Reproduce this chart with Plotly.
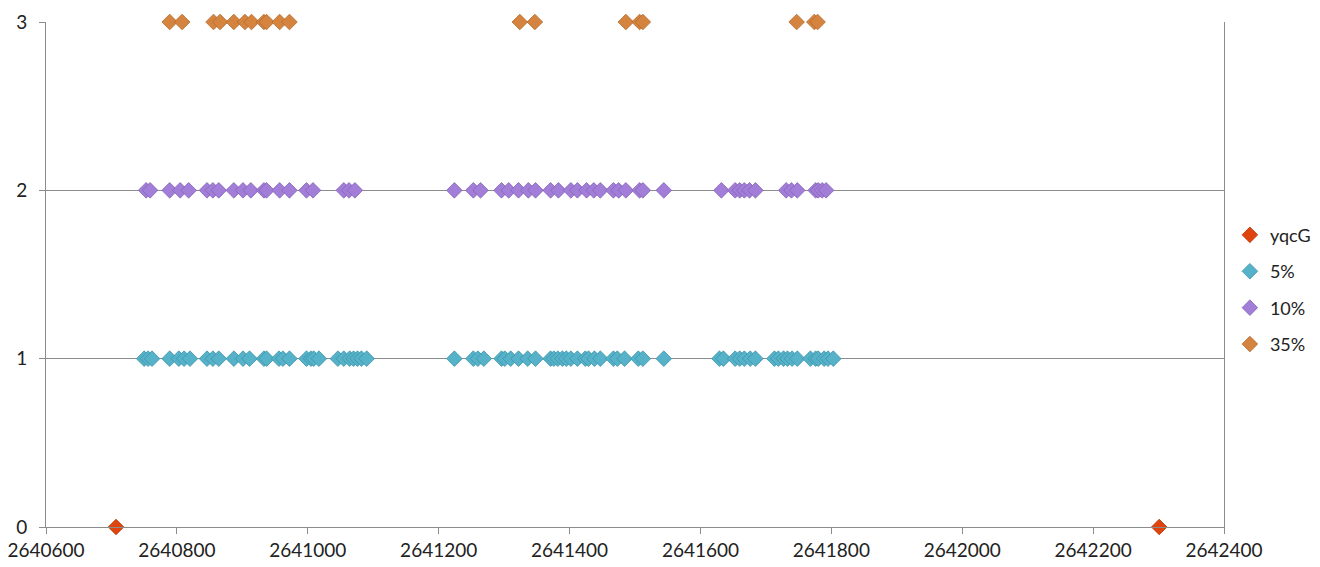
import plotly.graph_objects as go

# Data (positions)
yqcG_x = [2640707, 2642301]
yqcG_y = [0, 0]

pct5_x = [2640750, 2640756, 2640762, 2640789, 2640803, 2640811, 2640820, 2640846, 2640855,
          2640864, 2640887, 2640901, 2640911, 2640933, 2640937, 2640956, 2640962, 2640972,
          2640998, 2641005, 2641009, 2641017, 2641046, 2641055, 2641064, 2641070, 2641076,
          2641082, 2641090,
          2641224, 2641253, 2641260, 2641269, 2641296, 2641301, 2641310, 2641322, 2641336,
          2641348, 2641371, 2641376, 2641382, 2641389, 2641395, 2641402, 2641412, 2641424,
          2641429, 2641438, 2641447, 2641467, 2641473, 2641484, 2641505, 2641512, 2641544,
          2641629, 2641635, 2641653, 2641660, 2641667, 2641676, 2641684, 2641713, 2641719,
          2641727, 2641733, 2641740, 2641748, 2641768, 2641776, 2641780, 2641789, 2641795,
          2641803]
pct5_y = [1] * len(pct5_x)

pct10_x = [2640753, 2640759, 2640789, 2640805, 2640818, 2640846, 2640855, 2640864, 2640887,
           2640901, 2640913, 2640933, 2640937, 2640957, 2640972, 2640998, 2641008, 2641055,
           2641063, 2641072,
           2641224, 2641253, 2641264, 2641296, 2641307, 2641322, 2641337, 2641348, 2641371,
           2641383, 2641402, 2641412, 2641426, 2641437, 2641447, 2641467, 2641475, 2641486,
           2641507, 2641512, 2641544,
           2641632, 2641653, 2641660, 2641667, 2641675, 2641684, 2641731, 2641739, 2641748,
           2641776, 2641780, 2641786, 2641792]
pct10_y = [2] * len(pct10_x)

pct35_x = [2640789, 2640808, 2640856, 2640866, 2640887, 2640904, 2640914, 2640933, 2640937,
           2640957, 2640972, 2641324, 2641347, 2641486, 2641507, 2641512, 2641747, 2641774,
           2641779]
pct35_y = [3] * len(pct35_x)

x_ticks = [2640600, 2640800, 2641000, 2641200, 2641400, 2641600, 2641800, 2642000, 2642200, 2642400]
y_ticks = [0, 1, 2, 3]

series = [
    ("yqcG", yqcG_x, yqcG_y, "#E0440E", "#B8360A"),
    ("5%", pct5_x, pct5_y, "#55B2C9", "#3E94A8"),
    ("10%", pct10_x, pct10_y, "#A27ED8", "#8564B8"),
    ("35%", pct35_x, pct35_y, "#D5843F", "#B36A2C"),
]

fig = go.Figure()
for i, (name, xs, ys, fill, line) in enumerate(series):
    fig.add_trace(go.Scatter(
        x=xs, y=ys, name=name, mode="markers", legendgroup=f"g{i}",
        cliponaxis=False,
        marker=dict(symbol="diamond", size=12, color=fill,
                    line=dict(color=line, width=0.8)),
    ))

font = "Lato, 'Open Sans', sans-serif"
fig.update_layout(
    width=1312, height=559,
    paper_bgcolor="white", plot_bgcolor="white",
    margin=dict(l=38, r=96, t=14, b=40, autoexpand=False),
    font=dict(family=font, size=18, color="#222222"),
    showlegend=True,
    legend=dict(x=1.005, y=0.47, xanchor="left", yanchor="middle",
                font=dict(size=18, color="#222222"), tracegroupgap=10,
                itemwidth=30, traceorder="grouped"),
    xaxis=dict(range=[x_ticks[0], x_ticks[-1]], tickvals=x_ticks,
               ticktext=[str(v) for v in x_ticks], automargin=False,
               ticklabeloverflow="allow",
               showgrid=False, zeroline=False, showline=True, linecolor="#8C8C8C",
               linewidth=1, ticks="outside", ticklen=6, tickcolor="#8C8C8C",
               tickfont=dict(size=19, family=font, color="#222222")),
    yaxis=dict(range=[0, 3], tickvals=y_ticks, ticktext=[str(v) for v in y_ticks],
               automargin=False, ticklabelstandoff=8,
               showgrid=True, gridcolor="#8C8C8C", gridwidth=1, zeroline=False,
               showline=True, linecolor="#8C8C8C", linewidth=1, mirror=True,
               ticks="outside", ticklen=6, tickcolor="#8C8C8C",
               tickfont=dict(size=19, family=font, color="#222222")),
)

fig.write_html("out.html")
